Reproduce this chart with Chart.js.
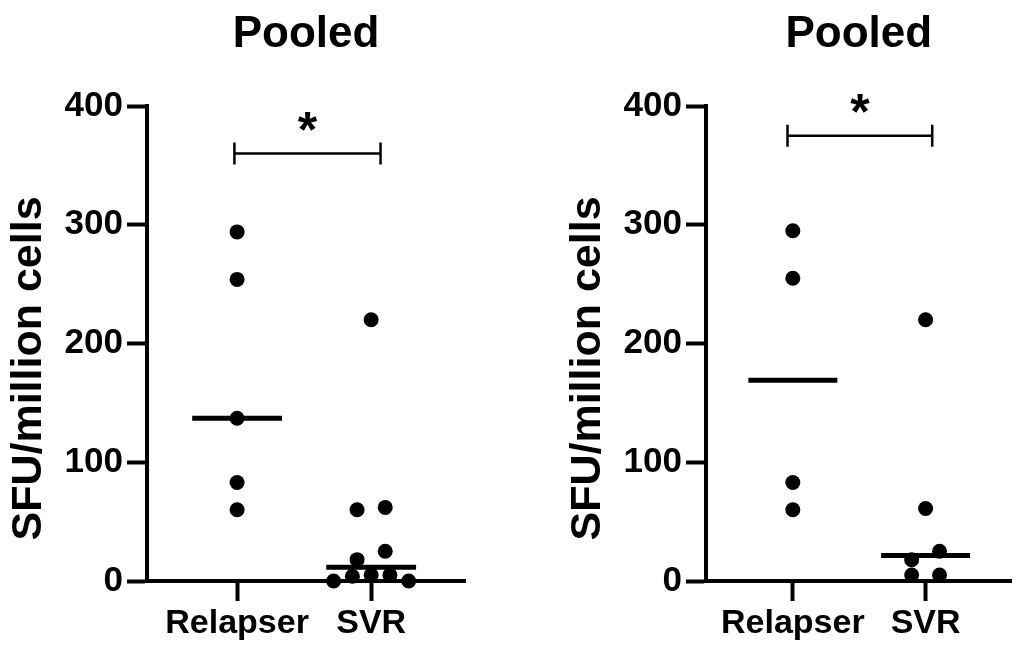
<!DOCTYPE html>
<html>
<head>
<meta charset="utf-8">
<script src="https://cdn.jsdelivr.net/npm/chart.js@4.4.1/dist/chart.umd.min.js"></script>
<style>
  body { margin: 0; background: #fff; }
  .panel { position: absolute; top: 0; }
</style>
</head>
<body>
<div class="panel" style="left:0"><canvas id="left" width="500" height="648"></canvas></div>
<div class="panel" style="left:559px"><canvas id="right" width="460" height="648"></canvas></div>
<script>
const categories = ['Relapser', 'SVR']
const panelTitles = ['Pooled', 'Pooled']
const yLabel = 'SFU/million cells'
const yTicks = [0, 100, 200, 300, 400]

// SFU per million cells
const leftRelapser = [294, 254, 137, 83, 60]
const leftSVR = [220, 62, 60, 25, 18, 5, 5, 4, 0, 0]
const rightRelapser = [295, 255, 83, 60]
const rightSVR = [220, 61, 25, 18, 5, 5]

// significance bars (* p<0.05): level on the y axis, span between groups
const sigLevels = [360, 375]
const sigSpans = [[0.98, 2.07], [0.96, 2.05]]

const FONT = '"Liberation Sans", Arial, Helvetica, sans-serif'

function median(vals) {
  const s = vals.slice().sort((a, b) => a - b)
  const m = Math.floor(s.length / 2)
  return s.length % 2 ? s[m] : (s[m - 1] + s[m]) / 2
}

// fan out values that sit close together, like a column scatter plot
function spread(vals, center) {
  const s = vals.slice().sort((a, b) => b - a)
  const clusters = []
  s.forEach(v => {
    const last = clusters[clusters.length - 1]
    if (last && last[last.length - 1] - v <= 10) last.push(v)
    else clusters.push([v])
  })
  const pts = []
  clusters.forEach(c => {
    const n = c.length
    const step = n % 2 ? 0.14 : 0.21
    c.forEach((v, i) => {
      let slot
      if (n % 2) slot = i === 0 ? 0 : Math.ceil(i / 2) * (i % 2 ? 1 : -1)
      else slot = (Math.floor(i / 2) + 0.5) * (i % 2 ? -1 : 1)
      pts.push({ x: center + slot * step, y: v })
    })
  })
  return pts
}

function medianBar(vals, center) {
  const m = median(vals)
  return [{ x: center - 0.335, y: m }, { x: center + 0.335, y: m }]
}

const annotations = {
  id: 'annotations',
  afterDatasetsDraw(chart, args, opts) {
    const { ctx, chartArea, scales: { x, y } } = chart
    const x1 = x.getPixelForValue(opts.span[0])
    const x2 = x.getPixelForValue(opts.span[1])
    const by = y.getPixelForValue(opts.level)
    ctx.save()
    ctx.strokeStyle = '#000'
    ctx.fillStyle = '#000'
    ctx.lineWidth = 2.5
    ctx.beginPath()
    ctx.moveTo(x1, by - 11); ctx.lineTo(x1, by + 11)
    ctx.moveTo(x1, by); ctx.lineTo(x2, by)
    ctx.moveTo(x2, by - 11); ctx.lineTo(x2, by + 11)
    ctx.stroke()
    ctx.textAlign = 'center'
    ctx.textBaseline = 'alphabetic'
    ctx.font = 'bold 50px ' + FONT
    ctx.fillText('*', (x1 + x2) / 2, by - 7)

    // panel title, centred over the plot area rather than the canvas
    ctx.font = 'bold 44px ' + FONT
    ctx.fillText(opts.title, (chartArea.left + chartArea.right) / 2, 47)

    // y axis caption, GraphPad puts it a little below the axis middle
    ctx.translate(29, (chartArea.top + chartArea.bottom) / 2 + 25)
    ctx.rotate(-Math.PI / 2)
    ctx.font = 'bold 43px ' + FONT
    ctx.textBaseline = 'middle'
    ctx.fillText(yLabel, 0, 0)
    ctx.restore()
  }
}

function makePanel(id, title, relapser, svr, xMin, xMax, level, span, padRight) {
  const dot = { backgroundColor: '#000', borderWidth: 0, pointRadius: 7.5, pointHoverRadius: 7.5, clip: false }
  const bar = { type: 'line', showLine: true, borderColor: '#000', borderWidth: 5, pointRadius: 0, clip: false, order: -1 }
  return new Chart(document.getElementById(id), {
    type: 'scatter',
    data: {
      datasets: [
        { label: categories[0], data: spread(relapser, 1), ...dot },
        { label: categories[1], data: spread(svr, 2), ...dot },
        { label: 'median ' + categories[0], data: medianBar(relapser, 1), ...bar },
        { label: 'median ' + categories[1], data: medianBar(svr, 2), ...bar }
      ]
    },
    options: {
      responsive: false,
      animation: false,
      layout: { padding: { top: 106, right: padRight } },
      plugins: {
        legend: { display: false },
        tooltip: { enabled: false },
        title: { display: false },
        annotations: { level, span, title }
      },
      scales: {
        x: {
          type: 'linear',
          min: xMin,
          max: xMax,
          afterBuildTicks: s => { s.ticks = categories.map((c, i) => ({ value: i + 1 })) },
          afterFit: s => { s.height = 67 },
          ticks: {
            color: '#000',
            padding: 2,
            font: { family: FONT, size: 34, weight: 'bold' },
            callback: v => categories[v - 1]
          },
          grid: { drawOnChartArea: false, tickLength: 20, tickWidth: 4, tickColor: '#000' },
          border: { display: true, color: '#000', width: 4 }
        },
        y: {
          min: yTicks[0],
          max: yTicks[yTicks.length - 1],
          afterBuildTicks: s => { s.ticks = yTicks.map(v => ({ value: v })) },
          afterFit: s => { s.width = 147 },
          ticks: {
            color: '#000',
            padding: 4,
            font: { family: FONT, size: 35, weight: 'bold' }
          },
          grid: { drawOnChartArea: false, tickLength: 20, tickWidth: 4, tickColor: '#000' },
          border: { display: true, color: '#000', width: 4 }
        }
      }
    },
    plugins: [annotations]
  })
}

makePanel('left', panelTitles[0], leftRelapser, leftSVR, 0.328, 2.70, sigLevels[0], sigSpans[0], 35)
makePanel('right', panelTitles[1], rightRelapser, rightSVR, 0.346, 2.647, sigLevels[1], sigSpans[1], 0)
</script>
</body>
</html>
